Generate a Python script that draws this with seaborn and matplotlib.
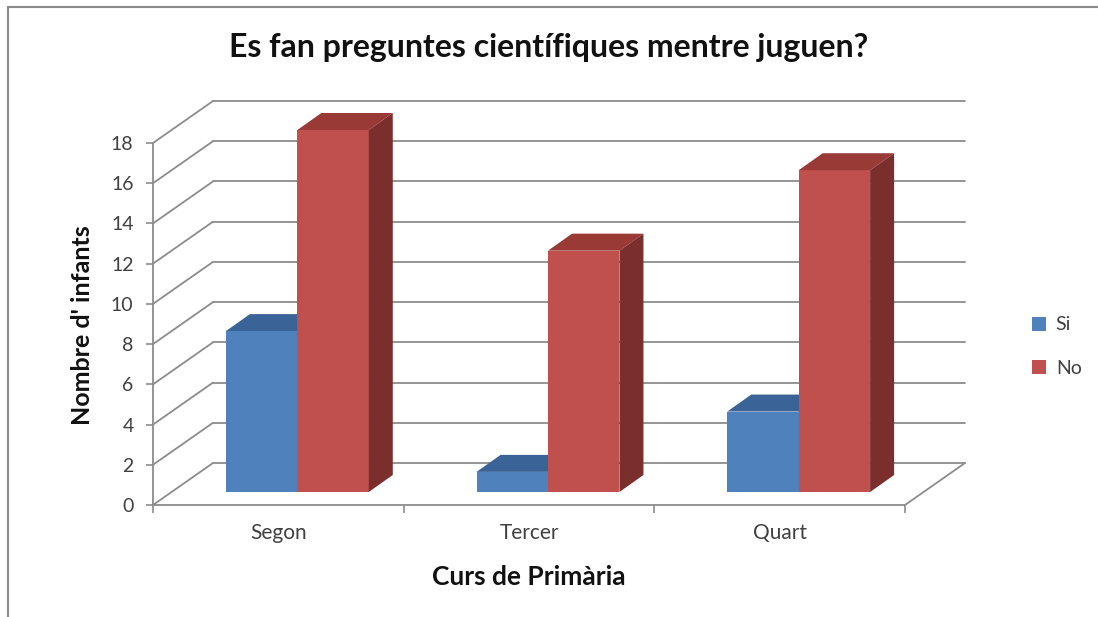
import pandas as pd
import seaborn as sns
import matplotlib.pyplot as plt
from matplotlib.patches import Polygon

# dades llegides del grafic
cursos = ["Segon", "Tercer", "Quart"]
respostes = ["Si", "No"]
si = [8, 1, 4]
no = [18, 12, 16]
y_ticks = list(range(0, 20, 2))

W, H = 1098, 617
blue, blue_top, blue_side = "#4F81BD", "#3A6497", "#30527d"
red, red_top, red_side = "#C0504D", "#9A3A37", "#7B2F2C"
grid_c = "#8C8C8C"
text_c = "#404040"

sns.set_theme(style="white")
plt.rcParams['font.family'] = ['Lato', 'DejaVu Sans']

fig = plt.figure(figsize=(W / 100, H / 100), dpi=100)
fig.patch.set_facecolor("white")

# front plane of the 3d box, in pixels
x0, x1, y0, y1 = 153, 905, 505, 143
ax = fig.add_axes([x0 / W, 1 - y0 / H, (x1 - x0) / W, (y0 - y1) / H])

df = pd.DataFrame({
    "curs": cursos * 2,
    "resposta": [respostes[0]] * 3 + [respostes[1]] * 3,
    "n": si + no,
})
sns.barplot(data=df, x="curs", y="n", hue="resposta", order=cursos,
            hue_order=respostes, palette=[blue, red], width=0.57,
            saturation=1, linewidth=0, ax=ax)
ax.set_xlim(-0.5, 2.5)
ax.set_ylim(0, 18)

# pixel -> data conversion, for the fake depth
kx = 3 / (x1 - x0)
ky = 18 / (y0 - y1)
wall_dx, wall_dy = 60 * kx, 42 * ky
bar_dx, bar_dy = 19 * kx, 13 * ky
deep_dx, deep_dy = 24 * kx, 17 * ky

# back wall gridlines + left wall diagonals
for t in y_ticks:
    ax.plot([-0.5 + wall_dx, 2.5 + wall_dx], [t + wall_dy, t + wall_dy],
            color=grid_c, lw=1.3, clip_on=False, zorder=0.5)
    ax.plot([-0.5, -0.5 + wall_dx], [t, t + wall_dy],
            color=grid_c, lw=1.3, clip_on=False, zorder=0.5)
ax.plot([2.5, 2.5 + wall_dx], [0, wall_dy], color=grid_c, lw=1.3,
        clip_on=False, zorder=0.5)

# 3d faces on the bars
styles = [(blue_top, blue_side, 3, 2), (red_top, red_side, 4, 4)]
for cont, (c_top, c_side, z_front, z_faces) in zip(ax.containers, styles):
    for rect in cont:
        x = rect.get_x() + bar_dx
        w = rect.get_width()
        h = rect.get_height()
        rect.set_x(x)
        rect.set_y(bar_dy)
        rect.set_zorder(z_front)
        rect.set_clip_on(False)
        top = [(x, bar_dy + h), (x + w, bar_dy + h),
               (x + w + deep_dx, bar_dy + h + deep_dy),
               (x + deep_dx, bar_dy + h + deep_dy)]
        side = [(x + w, bar_dy), (x + w, bar_dy + h),
                (x + w + deep_dx, bar_dy + h + deep_dy),
                (x + w + deep_dx, bar_dy + deep_dy)]
        ax.add_patch(Polygon(top, closed=True, fc=c_top, ec="none",
                             zorder=z_faces, clip_on=False))
        ax.add_patch(Polygon(side, closed=True, fc=c_side, ec="none",
                             zorder=z_faces, clip_on=False))

# axes look
for s in ["top", "right"]:
    ax.spines[s].set_visible(False)
for s in ["left", "bottom"]:
    ax.spines[s].set_color(grid_c)
    ax.spines[s].set_linewidth(1.3)
ax.set_yticks(y_ticks)
ax.set_xticks([-0.5, 0.5, 1.5, 2.5], minor=True)
ax.tick_params(axis="y", length=5, width=1.2, color=grid_c, labelsize=14,
               labelcolor=text_c, pad=9, left=True)
ax.tick_params(axis="x", which="major", length=0, labelsize=15,
               labelcolor=text_c, pad=13)
ax.tick_params(axis="x", which="minor", length=6, width=1.2, color=grid_c,
               bottom=True)
ax.set_xlabel("")
ax.set_ylabel("")
ax.grid(False)
ax.set_facecolor("none")

fig.text(0.5, 1 - 48 / H, "Es fan preguntes científiques mentre juguen?",
         ha="center", va="center", fontsize=23, fontweight="bold", color="#111111")
fig.text(82 / W, 1 - 325 / H, "Nombre d' infants", rotation=90,
         ha="center", va="center", fontsize=18, fontweight="bold", color="#111111")
fig.text(529 / W, 1 - 577 / H, "Curs de Primària",
         ha="center", va="center", fontsize=19, fontweight="bold", color="#111111")

sns.move_legend(ax, "upper left", bbox_to_anchor=(1014 / W, 1 - 299 / H),
                bbox_transform=fig.transFigure, frameon=False, title=None,
                handlelength=0.75, handleheight=0.75, labelspacing=1.35,
                handletextpad=0.5, fontsize=14)
for t in ax.get_legend().get_texts():
    t.set_color(text_c)

# outer frame
fig.add_artist(plt.Line2D([8 / W, 1], [1 - 7 / H, 1 - 7 / H], color="#8a8a8a", lw=1.5))
fig.add_artist(plt.Line2D([8 / W, 8 / W], [0, 1 - 7 / H], color="#8a8a8a", lw=1.5))

fig.savefig("out.png", dpi=100)
